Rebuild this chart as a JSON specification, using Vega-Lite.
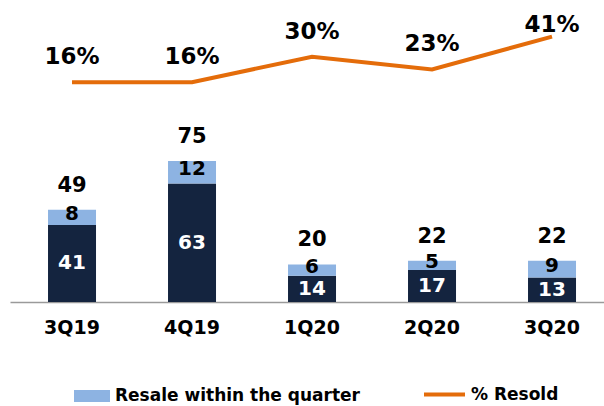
{
  "$schema": "https://vega.github.io/schema/vega-lite/v6.json",
  "width": 594,
  "height": 302,
  "autosize": {"type": "none"},
  "padding": {"left": 10, "top": 0, "right": 0, "bottom": 104},
  "config": {"view": {"stroke": null}, "font": "DejaVu Sans"},
  "datasets": {
    "bars": [
      {"quarter": "3Q19", "segment": "Resale after the quarter", "value": 41},
      {"quarter": "3Q19", "segment": "Resale within the quarter", "value": 8},
      {"quarter": "4Q19", "segment": "Resale after the quarter", "value": 63},
      {"quarter": "4Q19", "segment": "Resale within the quarter", "value": 12},
      {"quarter": "1Q20", "segment": "Resale after the quarter", "value": 14},
      {"quarter": "1Q20", "segment": "Resale within the quarter", "value": 6},
      {"quarter": "2Q20", "segment": "Resale after the quarter", "value": 17},
      {"quarter": "2Q20", "segment": "Resale within the quarter", "value": 5},
      {"quarter": "3Q20", "segment": "Resale after the quarter", "value": 13},
      {"quarter": "3Q20", "segment": "Resale within the quarter", "value": 9}
    ],
    "resold": [
      {"quarter": "3Q19", "pct": 0.16},
      {"quarter": "4Q19", "pct": 0.16},
      {"quarter": "1Q20", "pct": 0.30},
      {"quarter": "2Q20", "pct": 0.23},
      {"quarter": "3Q20", "pct": 0.41}
    ]
  },
  "encoding": {
    "x": {
      "field": "quarter",
      "type": "nominal",
      "sort": ["3Q19", "4Q19", "1Q20", "2Q20", "3Q20"],
      "scale": {"paddingInner": 0.6, "paddingOuter": 0.275, "align": 0.576},
      "axis": {
        "title": null,
        "labelAngle": 0,
        "ticks": false,
        "domainColor": "#9a9a9a",
        "domainWidth": 1.5,
        "labelFontSize": 19,
        "labelFontWeight": "bold",
        "labelColor": "#000000",
        "labelPadding": 16
      }
    }
  },
  "layer": [
    {
      "data": {"name": "bars"},
      "layer": [
        {
          "mark": {"type": "bar"},
          "encoding": {
            "y": {"field": "value", "type": "quantitative", "stack": "zero", "scale": {"domain": [0, 160.6]}, "axis": null},
            "fill": {
              "field": "segment",
              "type": "nominal",
              "scale": {"domain": ["Resale after the quarter", "Resale within the quarter"], "range": ["#14243f", "#8db3e2"]},
              "legend": {
                "values": ["Resale within the quarter"],
                "title": null,
                "orient": "none",
                "legendX": 64,
                "legendY": 378,
                "padding": 0,
                "symbolType": "M-1,-0.33H1V0.33H-1Z",
                "symbolSize": 1296,
                "symbolStrokeWidth": 0,
                "labelFontSize": 17,
                "labelFontWeight": "bold",
                "labelColor": "#000000",
                "labelLimit": 400,
                "labelOffset": 5
              }
            },
            "order": {"field": "segment", "sort": "ascending"}
          }
        },
        {
          "transform": [
            {"stack": "value", "groupby": ["quarter"], "sort": [{"field": "segment", "order": "ascending"}], "as": ["y0", "y1"]},
            {"calculate": "(datum.y0 + datum.y1) / 2", "as": "mid"},
            {"filter": "datum.segment === 'Resale after the quarter'"}
          ],
          "mark": {"type": "text", "fontSize": 20, "fontWeight": "bold", "baseline": "middle", "color": "#ffffff"},
          "encoding": {
            "y": {"field": "mid", "type": "quantitative", "scale": {"domain": [0, 160.6]}, "axis": null},
            "text": {"field": "value", "type": "quantitative"}
          }
        },
        {
          "transform": [
            {"stack": "value", "groupby": ["quarter"], "sort": [{"field": "segment", "order": "ascending"}], "as": ["y0", "y1"]},
            {"calculate": "(datum.y0 + datum.y1) / 2", "as": "mid"},
            {"filter": "datum.segment === 'Resale within the quarter'"}
          ],
          "mark": {"type": "text", "fontSize": 20, "fontWeight": "bold", "baseline": "middle", "dy": -3, "color": "#000000"},
          "encoding": {
            "y": {"field": "mid", "type": "quantitative", "scale": {"domain": [0, 160.6]}, "axis": null},
            "text": {"field": "value", "type": "quantitative"}
          }
        },
        {
          "mark": {"type": "text", "fontSize": 21, "fontWeight": "bold", "baseline": "middle", "dy": -24, "color": "#000000"},
          "encoding": {
            "y": {"aggregate": "sum", "field": "value", "type": "quantitative", "scale": {"domain": [0, 160.6]}, "axis": null},
            "text": {"aggregate": "sum", "field": "value", "type": "quantitative"}
          }
        }
      ]
    },
    {
      "data": {"name": "resold"},
      "layer": [
        {
          "mark": {"type": "line", "strokeWidth": 4},
          "encoding": {
            "y": {"field": "pct", "type": "quantitative", "scale": {"domain": [-1.045, 0.611]}, "axis": null},
            "stroke": {
              "datum": "% Resold",
              "scale": {"range": ["#e46c0a"]},
              "legend": {
                "title": null,
                "orient": "none",
                "legendX": 412,
                "legendY": 372,
                "padding": 0,
                "symbolType": "stroke",
                "symbolSize": 1681,
                "symbolStrokeWidth": 4,
                "labelFontSize": 17,
                "labelFontWeight": "bold",
                "labelColor": "#000000",
                "labelLimit": 300,
                "labelOffset": 4
              }
            }
          }
        },
        {
          "transform": [{"filter": "datum.pct < 0.4"}],
          "mark": {"type": "text", "fontSize": 23, "fontWeight": "bold", "baseline": "middle", "dy": -25, "color": "#000000"},
          "encoding": {
            "y": {"field": "pct", "type": "quantitative", "scale": {"domain": [-1.045, 0.611]}, "axis": null},
            "text": {"field": "pct", "type": "quantitative", "format": ".0%"}
          }
        },
        {
          "transform": [{"filter": "datum.pct >= 0.4"}],
          "mark": {"type": "text", "fontSize": 23, "fontWeight": "bold", "baseline": "middle", "dy": -12, "color": "#000000"},
          "encoding": {
            "y": {"field": "pct", "type": "quantitative", "scale": {"domain": [-1.045, 0.611]}, "axis": null},
            "text": {"field": "pct", "type": "quantitative", "format": ".0%"}
          }
        }
      ]
    }
  ],
  "resolve": {"scale": {"y": "independent"}}
}
